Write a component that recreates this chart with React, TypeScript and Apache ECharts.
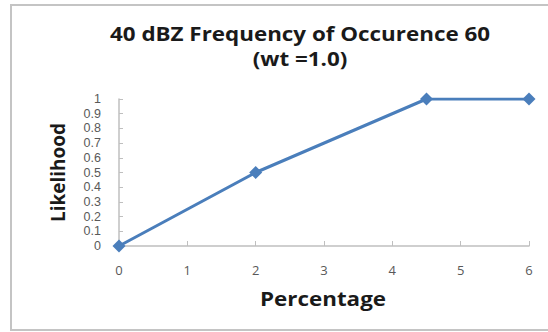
import React, { useEffect, useRef } from "react";
import * as echarts from "echarts";

const titleLines = ["40 dBZ Frequency of Occurence 60", "(wt =1.0)"];
const xName = "Percentage";
const yName = "Likelihood";
const percentage = [0, 2, 4.5, 6];
const likelihood = [0, 0.5, 1, 1];

export default function App() {
  const ref = useRef<HTMLDivElement>(null);
  useEffect(() => {
    const chart = echarts.init(ref.current!, null, { renderer: "svg" });
    const titleText = (text: string, y: number) => ({
      type: "text",
      x: 300,
      y,
      scaleX: 1.12,
      style: {
        text,
        font: "bold 20px 'Open Sans', sans-serif",
        fill: "#1a1a1a",
        align: "center",
        verticalAlign: "middle",
      },
    });
    chart.setOption({
      animation: false,
      backgroundColor: "#fff",
      grid: { left: 119, right: 19, top: 99, bottom: 86 },
      graphic: [
        {
          type: "rect",
          shape: { x: 11, y: 5, width: 560, height: 325 },
          style: { fill: "none", stroke: "#c4c4c4", lineWidth: 2 },
          z: -1,
        },
        titleText(titleLines[0], 33),
        titleText(titleLines[1], 58),
        {
          type: "text",
          x: 323,
          y: 298,
          scaleX: 1.12,
          style: {
            text: xName,
            font: "bold 20px 'Open Sans', sans-serif",
            fill: "#1a1a1a",
            align: "center",
            verticalAlign: "middle",
          },
        },
      ],
      xAxis: {
        type: "value",
        min: 0,
        max: 6,
        interval: 1,
        axisLine: { show: true, lineStyle: { color: "#bfbfbf", width: 1.5 } },
        axisTick: { show: true, inside: true, length: 5, lineStyle: { color: "#bfbfbf" } },
        axisLabel: { margin: 17, fontFamily: "Open Sans", fontSize: 13, color: "#595959" },
        splitLine: { show: false },
      },
      yAxis: {
        type: "value",
        min: 0,
        max: 1,
        interval: 0.1,
        name: yName,
        nameLocation: "middle",
        nameGap: 52,
        nameRotate: 90,
        nameTextStyle: { fontFamily: "Open Sans", fontWeight: "bold", fontSize: 19, color: "#1a1a1a" },
        axisLine: { show: true, lineStyle: { color: "#bfbfbf", width: 1.5 } },
        axisTick: { show: true, inside: true, length: 4, lineStyle: { color: "#bfbfbf" } },
        axisLabel: {
          margin: 18,
          fontFamily: "Liberation Sans",
          fontSize: 12.5,
          color: "#595959",
          lineHeight: 13,
          formatter: (v: number) => String(Math.round(v * 10) / 10),
        },
        splitLine: { show: false },
      },
      series: [
        {
          type: "line",
          data: percentage.map((x, i) => [x, likelihood[i]]),
          symbol: "diamond",
          symbolSize: 13,
          lineStyle: { color: "#4a7ebb", width: 3 },
          itemStyle: { color: "#4a7ebb" },
        },
      ],
    });
    return () => chart.dispose();
  }, []);
  return (
    <div
      ref={ref}
      style={{ position: "fixed", left: 0, top: 0, width: 548, height: 332 }}
    />
  );
}
